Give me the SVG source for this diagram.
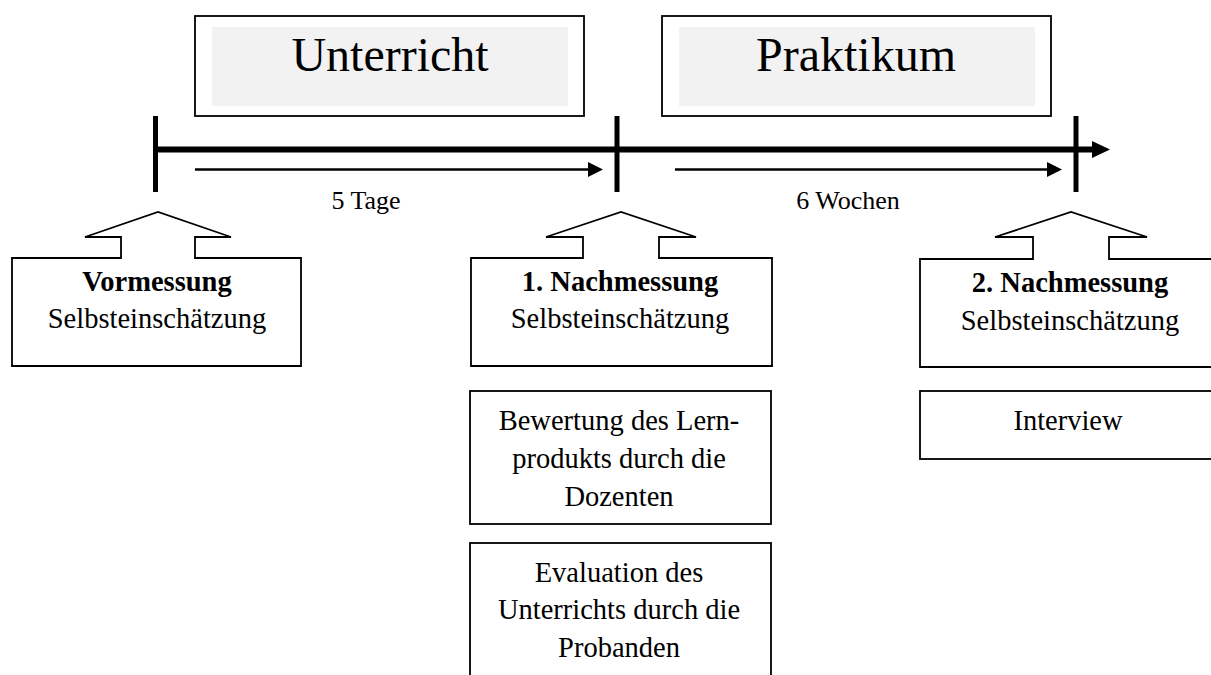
<svg xmlns="http://www.w3.org/2000/svg" width="1211" height="675" viewBox="0 0 1211 675">
<style>
text{font-family:"Liberation Serif","Times New Roman",serif;fill:#000;text-anchor:middle}
.big{font-size:48px}
.lbl{font-size:26px}
.t{font-size:28.5px}
.b{font-weight:bold}
.box{fill:#fff;stroke:#000;stroke-width:1.8}
.grey{fill:#f2f2f2;stroke:none}
.thick{stroke:#000;stroke-width:6;fill:none}
.tick{stroke:#000;stroke-width:5;fill:none}
.thin{stroke:#000;stroke-width:2.5;fill:none}
.head{fill:#000;stroke:none}
</style>
<rect width="1211" height="675" fill="#fff"/>
<g id="unterricht">
<rect class="box" x="195" y="16" width="389" height="100"/>
<rect class="grey" x="212" y="27" width="356" height="79"/>
<text class="big" x="390" y="71">Unterricht</text>
</g>
<g id="praktikum">
<rect class="box" x="662" y="16" width="389" height="100"/>
<rect class="grey" x="679" y="27" width="356" height="79"/>
<text class="big" x="856" y="71">Praktikum</text>
</g>
<g id="connectors">
<line class="thick" x1="153" y1="149.5" x2="1094" y2="149.5"/>
<polygon class="head" points="1092,141 1110,149.5 1092,158"/>
<line class="tick" x1="155.5" y1="116" x2="155.5" y2="192"/>
<line class="tick" x1="617" y1="116" x2="617" y2="192"/>
<line class="tick" x1="1076" y1="116" x2="1076" y2="192"/>
<line class="thin" x1="195" y1="169.5" x2="590" y2="169.5"/>
<polygon class="head" points="588,162 603,169.5 588,177"/>
<line class="thin" x1="675" y1="169.5" x2="1049" y2="169.5"/>
<polygon class="head" points="1047,162 1062,169.5 1047,177"/>
</g>
<g id="label-5tage"><text class="lbl" x="366" y="209">5 Tage</text></g>
<g id="label-6wochen"><text class="lbl" x="848" y="209">6 Wochen</text></g>
<g id="vormessung">
<polygon class="box" points="12,258 121,258 121,237 85,237 158,212 231,237 195,237 195,258 301,258 301,366 12,366"/>
<text class="t b" x="157" y="291">Vormessung</text>
<text class="t" x="157" y="328">Selbsteinschätzung</text>
</g>
<g id="nachmessung1">
<polygon class="box" points="471,258 583,258 583,237 546,237 621,212 696,237 659,237 659,258 772,258 772,366 471,366"/>
<text class="t b" x="620" y="291">1. Nachmessung</text>
<text class="t" x="620" y="328">Selbsteinschätzung</text>
</g>
<g id="nachmessung2">
<polygon class="box" points="920,259 1033,259 1033,237 995,237 1071,212 1147,237 1109,237 1109,259 1222,259 1222,367 920,367"/>
<text class="t b" x="1070" y="292">2. Nachmessung</text>
<text class="t" x="1070" y="330">Selbsteinschätzung</text>
</g>
<g id="bewertung">
<rect class="box" x="470" y="391" width="301" height="133"/>
<text class="t" x="619" y="430">Bewertung des Lern-</text>
<text class="t" x="619" y="468">produkts durch die</text>
<text class="t" x="619" y="506">Dozenten</text>
</g>
<g id="evaluation">
<rect class="box" x="470" y="543" width="301" height="150"/>
<text class="t" x="619" y="582">Evaluation des</text>
<text class="t" x="619" y="619">Unterrichts durch die</text>
<text class="t" x="619" y="657">Probanden</text>
</g>
<g id="interview">
<rect class="box" x="920" y="391" width="302" height="68"/>
<text class="t" x="1068" y="430">Interview</text>
</g>
</svg>
